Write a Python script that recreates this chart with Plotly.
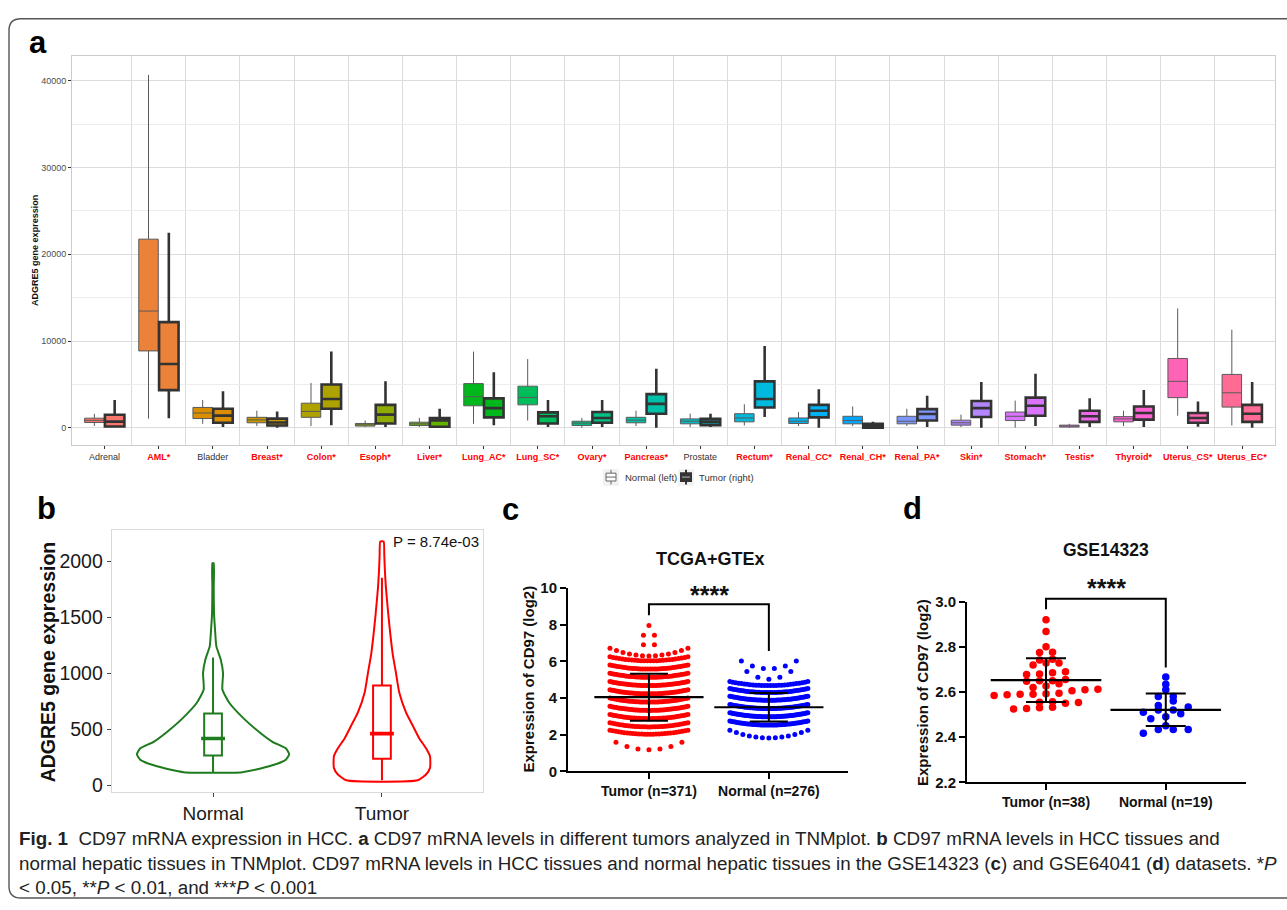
import math
import numpy as np
import plotly.graph_objects as go

W, H = 1287, 910
FONT = "Arial, Liberation Sans, sans-serif"

# ---------------- Panel a: TNMplot boxplots ----------------
a_tissues = ["Adrenal", "AML*", "Bladder", "Breast*", "Colon*", "Esoph*", "Liver*",
             "Lung_AC*", "Lung_SC*", "Ovary*", "Pancreas*", "Prostate", "Rectum*",
             "Renal_CC*", "Renal_CH*", "Renal_PA*", "Skin*", "Stomach*", "Testis*",
             "Thyroid*", "Uterus_CS*", "Uterus_EC*"]
a_significant = [False, True, False, True, True, True, True, True, True, True, True,
                 False, True, True, True, True, True, True, True, True, True, True]

normal_low = [200, 1050, 450, 190, 190, 80, 80, 450, 830, 0, 190, 80, 260, 190, 190, 190, 80, 0, 0, 190, 1390, 260]
normal_q1 = [600, 8860, 1060, 570, 1200, 190, 260, 2530, 2640, 260, 570, 450, 680, 490, 450, 450, 300, 830, 80, 680, 3470, 2380]
normal_med = [850, 13460, 1700, 900, 1880, 340, 450, 3580, 3500, 530, 870, 750, 1130, 750, 830, 750, 570, 1320, 190, 1020, 5350, 4030]
normal_q3 = [1100, 21750, 2340, 1200, 2830, 490, 640, 5090, 4790, 750, 1200, 1020, 1620, 1130, 1320, 1320, 870, 1810, 300, 1280, 7990, 6150]
normal_high = [1600, 40700, 3200, 1960, 5160, 830, 1130, 8780, 7920, 1130, 1960, 1620, 2710, 1810, 2450, 2190, 1510, 3130, 450, 1960, 13760, 11310]

tumor_low = [0, 1100, 80, 0, 300, 80, 0, 300, 80, 80, 0, 80, 1240, 0, 0, 80, 0, 190, 80, 80, 110, 0]
tumor_q1 = [150, 4340, 570, 260, 2190, 490, 110, 1200, 490, 570, 1620, 300, 2340, 1200, 0, 830, 1240, 1390, 680, 940, 570, 680]
tumor_med = [700, 7350, 1400, 600, 3320, 1510, 830, 2260, 1320, 1130, 2750, 680, 3320, 1960, 190, 1580, 2260, 2530, 1320, 1700, 1130, 1620]
tumor_q3 = [1500, 12180, 2190, 1050, 4980, 2640, 1130, 3390, 1770, 1810, 3880, 1020, 5350, 2640, 450, 2150, 3090, 3470, 1960, 2450, 1700, 2640]
tumor_high = [3200, 22500, 4220, 1880, 8780, 5350, 2190, 6410, 3200, 3200, 6790, 1620, 9420, 4450, 680, 3690, 5280, 6220, 3390, 4340, 3020, 5280]

a_yticks = [0, 10000, 20000, 30000, 40000]

# ---------------- Panel b: violin (TNMplot liver) ----------------
b_groups = ["Normal", "Tumor"]
b_normal_y = [117, 169, 227, 277, 330, 388, 476, 593, 739, 856, 1002, 1124, 1241, 1387, 1533, 1767, 1985]
b_normal_density = [88, 168, 218, 228, 218, 178, 138, 93, 48, 28, 30, 23, 10, 6, 3, 2, 2]
b_tumor_y = [44, 96, 155, 257, 330, 418, 534, 651, 826, 1002, 1177, 1352, 1528, 1761, 1907, 2053, 2178]
b_tumor_density = [107, 132, 144, 144, 132, 112, 92, 72, 52, 42, 32, 25, 19, 12, 9, 7, 5]
b_box_low = [117, 44]
b_box_q1 = [266, 237]
b_box_med = [418, 461]
b_box_q3 = [642, 891]
b_box_high = [1142, 1854]
b_pvalue = "P = 8.74e-03"

# ---------------- Panel c: TCGA+GTEx ----------------
c_labels = ["Tumor (n=371)", "Normal (n=276)"]
c_tumor_levels = [7.95, 7.42, 6.9, 6.72, 6.25, 5.8, 5.35, 4.9, 4.45, 4.0, 3.55, 3.1, 2.65, 2.25, 1.6]
c_tumor_counts = [1, 2, 2, 13, 26, 32, 36, 38, 40, 40, 38, 36, 32, 28, 7]
c_normal_levels = [6.02, 5.45, 4.9, 4.52, 4.1, 3.65, 3.2, 2.75, 2.25]
c_normal_counts = [6, 5, 28, 36, 44, 50, 50, 44, 13]
c_mean = [4.05, 3.50]
c_sd = [1.28, 0.78]
c_bracket_y = [8.52, 9.11, 9.11, 6.57]

# ---------------- Panel d: GSE14323 ----------------
d_labels = ["Tumor (n=38)", "Normal (n=19)"]
d_tumor = [2.92, 2.868, 2.80, 2.775, 2.776, 2.745, 2.742, 2.728, 2.72, 2.728, 2.68, 2.685,
           2.69, 2.677, 2.65, 2.65, 2.648, 2.655, 2.637, 2.612, 2.627, 2.61, 2.605, 2.59,
           2.588, 2.592, 2.585, 2.59, 2.595, 2.55, 2.553, 2.555, 2.557, 2.53, 2.525, 2.527,
           2.532, 2.62]
d_normal = [2.666, 2.634, 2.61, 2.58, 2.58, 2.56, 2.533, 2.54, 2.52, 2.52, 2.504, 2.51,
            2.482, 2.49, 2.45, 2.434, 2.417, 2.434, 2.434]
d_mean = [2.653, 2.521]
d_sd = [0.097, 0.072]
d_bracket_y = [2.967, 3.013, 3.013, 2.709]


def hcl_hex(h, c=100.0, l=65.0):
    hr = math.radians(h)
    U, V = c * math.cos(hr), c * math.sin(hr)
    Xn, Yn, Zn = 95.047, 100.0, 108.883
    un = 4 * Xn / (Xn + 15 * Yn + 3 * Zn)
    vn = 9 * Yn / (Xn + 15 * Yn + 3 * Zn)
    Y = Yn * ((l + 16) / 116) ** 3
    u = U / (13 * l) + un
    v = V / (13 * l) + vn
    X = 9.0 * Y * u / (4 * v)
    Z = -X / 3 - 5 * Y + 3 * Y / v
    x, y, z = X / 100, Y / 100, Z / 100
    rgb = [3.240479 * x - 1.537150 * y - 0.498535 * z,
           -0.969256 * x + 1.875992 * y + 0.041556 * z,
           0.055648 * x - 0.204043 * y + 1.057311 * z]
    out = []
    for ch in rgb:
        ch = 12.92 * ch if ch <= 0.0031308 else 1.055 * ch ** (1 / 2.4) - 0.055
        out.append(int(round(min(max(ch, 0), 1) * 255)))
    return "#%02X%02X%02X" % tuple(out)


n_t = len(a_tissues)
a_colors = [hcl_hex(15 + 360 * i / n_t) for i in range(n_t)]

fig = go.Figure()

# Panel a boxes
for i in range(n_t):
    fig.add_trace(go.Box(
        x=[i - 0.1875], q1=[normal_q1[i]], median=[normal_med[i]], q3=[normal_q3[i]],
        lowerfence=[normal_low[i]], upperfence=[normal_high[i]], width=0.36,
        fillcolor=a_colors[i], line=dict(color="#5a5a5a", width=1), whiskerwidth=0,
        boxpoints=False, showlegend=False, hoverinfo="skip", xaxis="x", yaxis="y"))
    fig.add_trace(go.Box(
        x=[i + 0.1875], q1=[tumor_q1[i]], median=[tumor_med[i]], q3=[tumor_q3[i]],
        lowerfence=[tumor_low[i]], upperfence=[tumor_high[i]], width=0.36,
        fillcolor=a_colors[i], line=dict(color="#333333", width=2.6), whiskerwidth=0,
        boxpoints=False, showlegend=False, hoverinfo="skip", xaxis="x", yaxis="y"))

# Panel b violins (outline) + inner boxes
b_px_per_unit = 371 / 2.2
b_scale = 1 / (3 * b_px_per_unit)
b_cols = ["#1E7B1E", "#FF0000"]
for gi, (ys, dens) in enumerate([(b_normal_y, b_normal_density), (b_tumor_y, b_tumor_density)]):
    col = b_cols[gi]
    xl = [gi - d * b_scale for d in dens]
    xr = [gi + d * b_scale for d in dens]
    xs = xl + xr[::-1] + [xl[0]]
    yy = ys + ys[::-1] + [ys[0]]
    fig.add_trace(go.Scatter(x=xs, y=yy, mode="lines",
                             line=dict(color=col, width=2, shape="spline", smoothing=0.5),
                             showlegend=False, hoverinfo="skip", xaxis="x2", yaxis="y2"))
    fig.add_trace(go.Box(x=[gi], q1=[b_box_q1[gi]], median=[b_box_med[gi]], q3=[b_box_q3[gi]],
                         lowerfence=[b_box_low[gi]], upperfence=[b_box_high[gi]], width=0.105,
                         fillcolor="white", line=dict(color=col, width=2), whiskerwidth=0,
                         boxpoints=False, showlegend=False, hoverinfo="skip", xaxis="x2", yaxis="y2"))
# thicker median bars (as in ggplot's boxplot inside violins)
fig.add_trace(go.Scatter(x=[0, 1], y=b_box_med, mode="markers",
                         marker=dict(symbol="line-ew", size=17, line=dict(color=b_cols, width=3.6)),
                         showlegend=False, hoverinfo="skip", xaxis="x2", yaxis="y2"))


def arc_rows(levels, counts, center, xppu, halfmax_px=39, spacing_px=11, dense_depth=0.22, sparse_depth=0.42):
    xs, ys = [], []
    for lev, n in zip(levels, counts):
        if n == 1:
            xs.append(center)
            ys.append(lev)
            continue
        hw = min(halfmax_px, (n - 1) * spacing_px / 2) / xppu
        depth = 0 if n <= 2 else (sparse_depth if n < 15 else dense_depth)
        for u in np.linspace(-1, 1, n):
            xs.append(center + u * hw)
            ys.append(lev - depth * (1 - u * u))
    return xs, ys


def binned_scatter(vals, center, xppu, bin_w, spacing_px):
    """GraphPad-like scatter: values grouped in horizontal bins, spread evenly around the centre."""
    vals = list(vals)
    vmin = min(vals)
    bins = {}
    for i, v in enumerate(vals):
        bins.setdefault(int((v - vmin) // bin_w), []).append(i)
    xs = [0.0] * len(vals)
    for b, idx in bins.items():
        idx.sort(key=lambda i: vals[i])
        n = len(idx)
        for slot, i in zip(range(n), idx):
            xs[i] = center + (slot - (n - 1) / 2) * spacing_px / xppu
    return xs


# Panel c points
c_xppu = 120.0
tx, ty = arc_rows(c_tumor_levels, c_tumor_counts, 0, c_xppu)
nx, ny = arc_rows(c_normal_levels, c_normal_counts, 1, c_xppu)
fig.add_trace(go.Scatter(x=tx, y=ty, mode="markers", marker=dict(color="#FF0000", size=5.0),
                         showlegend=False, hoverinfo="skip", xaxis="x3", yaxis="y3"))
fig.add_trace(go.Scatter(x=nx, y=ny, mode="markers", marker=dict(color="#0000FF", size=5.0),
                         showlegend=False, hoverinfo="skip", xaxis="x3", yaxis="y3"))
for gi in range(2):
    fig.add_trace(go.Scatter(x=[gi], y=[c_mean[gi]], mode="markers",
                             marker=dict(symbol="line-ew", size=78, line=dict(color="black", width=2.2)),
                             error_y=dict(type="data", array=[c_sd[gi]], color="black", thickness=2, width=19),
                             showlegend=False, hoverinfo="skip", xaxis="x3", yaxis="y3"))
fig.add_trace(go.Scatter(x=[0, 0, 1, 1], y=c_bracket_y, mode="lines", line=dict(color="black", width=2),
                         showlegend=False, hoverinfo="skip", xaxis="x3", yaxis="y3"))

# Panel d points
d_xppu = 120.0
d_xrange = [-0.66, 1.67]
d_yrange = [2.2, 3.0]
dtx = binned_scatter(d_tumor, 0, d_xppu, 0.03, 13)
dnx = binned_scatter(d_normal, 1, d_xppu, 0.03, 15)
fig.add_trace(go.Scatter(x=dtx, y=d_tumor, mode="markers", marker=dict(color="#FF0000", size=7.5),
                         showlegend=False, hoverinfo="skip", xaxis="x4", yaxis="y4", cliponaxis=False))
fig.add_trace(go.Scatter(x=dnx, y=d_normal, mode="markers", marker=dict(color="#0000FF", size=7.5),
                         showlegend=False, hoverinfo="skip", xaxis="x4", yaxis="y4", cliponaxis=False))
for gi in range(2):
    fig.add_trace(go.Scatter(x=[gi], y=[d_mean[gi]], mode="markers",
                             marker=dict(symbol="line-ew", size=79, line=dict(color="black", width=2.2)),
                             error_y=dict(type="data", array=[d_sd[gi]], color="black", thickness=2, width=20),
                             showlegend=False, hoverinfo="skip", xaxis="x4", yaxis="y4"))


def px(x):
    return x / W


def py(y):
    return 1 - y / H


a_ticktext = [("<b><span style='color:#FF0000'>%s</span></b>" % t) if s else t
              for t, s in zip(a_tissues, a_significant)]

layout = dict(
    width=W, height=H, margin=dict(l=0, r=0, t=0, b=0),
    paper_bgcolor="white", plot_bgcolor="white", showlegend=False,
    font=dict(family=FONT, color="#222"),
    xaxis=dict(domain=[px(72), px(1274.5)], range=[-0.6, n_t - 0.4], anchor="y",
               tickvals=list(range(n_t)), ticktext=a_ticktext, ticks="outside", ticklen=3,
               tickcolor="#333", tickfont=dict(size=9, color="#333", family=FONT),
               showgrid=False, zeroline=False, showline=True, mirror=True, linecolor="#cccccc",
               minor=dict(tickvals=[i + 0.5 for i in range(n_t - 1)], showgrid=True,
                          gridcolor="#dcdcdc", gridwidth=1.1, ticks="")),
    yaxis=dict(domain=[py(444), py(48.3)], range=[-1958, 42830], anchor="x",
               tickvals=a_yticks, ticktext=[str(v) for v in a_yticks], ticks="outside", ticklen=3,
               tickcolor="#333", tickfont=dict(size=9, color="#4d4d4d", family=FONT),
               showgrid=True, gridcolor="#dcdcdc", gridwidth=1.1, zeroline=False,
               showline=True, mirror=True, linecolor="#cccccc",
               minor=dict(tickvals=[5000, 15000, 25000, 35000], showgrid=True, gridcolor="#ececec", ticks="")),
    xaxis2=dict(domain=[px(111.7), px(483.3)], range=[-0.6, 1.6], anchor="y2",
                tickvals=[0, 1], ticktext=b_groups, ticks="outside", ticklen=4, tickcolor="#444",
                tickfont=dict(size=19, color="#1a1a1a"), showgrid=False, zeroline=False,
                showline=True, mirror=True, linecolor="#d9d9d9"),
    yaxis2=dict(domain=[py(798.3), py(530.7)], range=[-64, 2283], anchor="x2",
                tickvals=[0, 500, 1000, 1500, 2000], ticks="outside", ticklen=4, tickcolor="#444",
                tickfont=dict(size=19.5, color="#1a1a1a"), showgrid=False, zeroline=False,
                showline=True, mirror=True, linecolor="#d9d9d9"),
    xaxis3=dict(domain=[px(568), px(848)], range=[-0.675, 1.66], anchor="y3",
                tickvals=[0, 1], ticktext=c_labels, ticks="outside", ticklen=6, tickwidth=2,
                tickcolor="black", tickfont=dict(size=14, color="#111", weight="bold"),
                showgrid=False, zeroline=False, showline=True, linecolor="black", linewidth=2),
    yaxis3=dict(domain=[py(777), py(590)], range=[0, 10], anchor="x3",
                tickvals=[0, 2, 4, 6, 8, 10], ticks="outside", ticklen=6, tickwidth=2,
                tickcolor="black", tickfont=dict(size=15, color="#111", weight="bold"),
                showgrid=False, zeroline=False, showline=True, linecolor="black", linewidth=2),
    xaxis4=dict(domain=[px(967), px(1246)], range=d_xrange, anchor="y4",
                tickvals=[0, 1], ticktext=d_labels, ticks="outside", ticklen=6, tickwidth=2,
                tickcolor="black", tickfont=dict(size=14, color="#111", weight="bold"),
                showgrid=False, zeroline=False, showline=True, linecolor="black", linewidth=2),
    yaxis4=dict(domain=[py(788), py(604)], range=d_yrange, anchor="x4",
                tickvals=[2.2, 2.4, 2.6, 2.8, 3.0], tickformat=".1f", ticks="outside", ticklen=6,
                tickwidth=2, tickcolor="black", tickfont=dict(size=15, color="#111", weight="bold"),
                showgrid=False, zeroline=False, showline=True, linecolor="black", linewidth=2),
)
fig.update_layout(**layout)

ann = []


def A(text, x, y, size, bold=False, color="#111", xanchor="center", angle=0, family=FONT):
    ann.append(dict(text=("<b>%s</b>" % text) if bold else text, x=px(x), y=py(y), xref="paper",
                    yref="paper", showarrow=False, xanchor=xanchor, yanchor="middle",
                    textangle=angle, font=dict(size=size, color=color, family=family)))


A("a", 37.5, 34, 31, bold=True, color="#000")
A("b", 46.7, 509, 31, bold=True, color="#000")
A("c", 510, 510, 31, bold=True, color="#000")
A("d", 912, 509, 31, bold=True, color="#000")
A("ADGRE5 gene expression", 35, 246.5, 9, bold=True, color="#111", angle=-90)
A("ADGRE5 gene expression", 48.3, 665.5, 19.5, bold=True, color="#111", angle=-90)
A("Expression of CD97 (log2)", 528.3, 683, 15, bold=True, color="#111", angle=-90)
A("Expression of CD97 (log2)", 923, 696, 15, bold=True, color="#111", angle=-90)
A(b_pvalue, 435.5, 542.3, 15, color="#111")
A("TCGA+GTEx", 710, 560, 18, bold=True, color="#111")
A("GSE14323", 1106, 551, 17.5, bold=True, color="#111")
A("****", 709, 597, 25, bold=True, color="#111")
A("****", 1106, 590, 25, bold=True, color="#111")
A("Normal (left)", 623, 477.5, 9.5, color="#333", xanchor="left")
A("Tumor (right)", 697, 477.5, 9.5, color="#333", xanchor="left")

cap1 = ("<b>Fig. 1</b>  CD97 mRNA expression in HCC. <b>a</b> CD97 mRNA levels in different tumors "
        "analyzed in TNMplot. <b>b</b> CD97 mRNA levels in HCC tissues and")
cap2 = ("normal hepatic tissues in TNMplot. CD97 mRNA levels in HCC tissues and normal hepatic tissues "
        "in the GSE14323 (<b>c</b>) and GSE64041 (<b>d</b>) datasets. *<i>P</i>")
cap3 = "&lt; 0.05, **<i>P</i> &lt; 0.01, and ***<i>P</i> &lt; 0.001"
A(cap1, 17, 845, 18.8, color="#222", xanchor="left")
A(cap2, 17, 871, 18.8, color="#222", xanchor="left")
A(cap3, 17, 895, 18.8, color="#222", xanchor="left")
fig.update_layout(annotations=ann)


def rect(x0, y0, x1, y1, line, fill, lw=1):
    return dict(type="rect", xref="paper", yref="paper", x0=px(x0), x1=px(x1), y0=py(y1), y1=py(y0),
                line=dict(color=line, width=lw), fillcolor=fill, layer="above")


def seg(x0, y0, x1, y1, color, lw=1):
    return dict(type="line", xref="paper", yref="paper", x0=px(x0), x1=px(x1), y0=py(y0), y1=py(y1),
                line=dict(color=color, width=lw), layer="above")


frame = ("M %f,%f L %f,%f Q %f,%f %f,%f L %f,%f Q %f,%f %f,%f L %f,%f" % (
    px(1290), py(10), px(21), py(10), px(9), py(10), px(9), py(22), px(9), py(894),
    px(9), py(906), px(21), py(906), px(1290), py(906)))
shapes = [dict(type="path", xref="paper", yref="paper", path=frame, line=dict(color="#555", width=1.4))]

# significance bracket for panel d (extends above the axis range -> unclipped domain refs)
bx = [(v - d_xrange[0]) / (d_xrange[1] - d_xrange[0]) for v in [0, 0, 1, 1]]
by = [(v - d_yrange[0]) / (d_yrange[1] - d_yrange[0]) for v in d_bracket_y]
d_path = "M %f,%f L %f,%f L %f,%f L %f,%f" % (bx[0], by[0], bx[1], by[1], bx[2], by[2], bx[3], by[3])
shapes.append(dict(type="path", xref="x4 domain", yref="y4 domain", path=d_path,
                   line=dict(color="black", width=2)))

# legend keys
shapes += [rect(603, 469, 619, 486, "rgba(0,0,0,0)", "#f2f2f2", 0),
           rect(678, 469, 694, 486, "rgba(0,0,0,0)", "#f2f2f2", 0),
           seg(611, 469.5, 611, 473, "#666", 1), seg(611, 481, 611, 484.5, "#666", 1),
           rect(606, 473, 616, 481, "#666", "white", 1), seg(606, 477, 616, 477, "#666", 1),
           seg(686, 469.5, 686, 473, "#333", 2), seg(686, 481, 686, 484.5, "#333", 2),
           rect(681, 473, 691, 481, "#333", "#333", 2), seg(682, 477, 690, 477, "#bbb", 1)]
fig.update_layout(shapes=shapes)

fig.write_html("out.html")
